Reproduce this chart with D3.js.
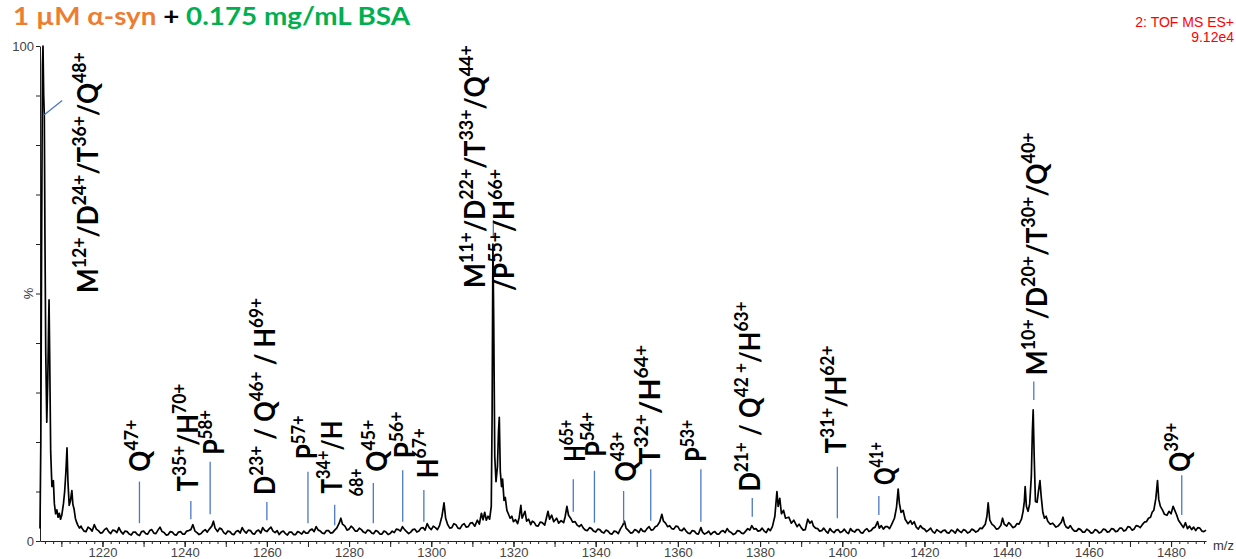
<!DOCTYPE html>
<html>
<head>
<meta charset="utf-8">
<script src="https://cdn.jsdelivr.net/npm/d3@7"></script>
<style>
  body { margin: 0; background: #fff; }
  svg { display: block; }
  .tick text { font-family: "Liberation Sans", Arial, sans-serif; font-size: 13px; fill: #444; }
  .tick line { stroke: #222; }
  .peak-label { font-family: Lato, "Open Sans", sans-serif; font-weight: 700; font-size: 28px; fill: #000; white-space: pre; }
</style>
</head>
<body>
<svg id="chart" width="1236" height="559"></svg>
<script>
// m/z (x) and relative intensity in % (y)
const spectrum = [
  [1204.8, 2.5], [1205.0, 20], [1205.2, 62], [1205.4, 96], [1205.53, 100], [1205.7, 90], [1205.85, 86],
  [1206.0, 62], [1206.2, 38], [1206.45, 24], [1206.7, 33], [1206.9, 44], [1207.0, 48.7], [1207.15, 38],
  [1207.4, 18], [1207.7, 11], [1207.9, 12], [1208.05, 12.2], [1208.3, 7.5], [1208.6, 5.5], [1208.9, 6.3],
  [1209.2, 4.8], [1209.5, 5.6], [1209.8, 4.4], [1210.1, 5.2], [1210.5, 7.5], [1210.8, 10], [1211.1, 14],
  [1211.37, 18.8], [1211.6, 12], [1211.9, 7.2], [1212.2, 8.1], [1212.55, 10.2], [1212.8, 7.4], [1213.1, 6.4],
  [1213.4, 4.6], [1213.7, 3.8], [1214.0, 3.2], [1214.4, 2.6], [1214.8, 3.0],
  [1215, 2.6], [1215.5, 2.0], [1216, 1.9], [1216.5, 2.8], [1217, 2.5], [1217.5, 2.0], [1218, 3.3], [1218.5, 2.4],
  [1219, 2.1], [1219.5, 1.6], [1220, 1.7], [1220.5, 2.3], [1221, 2.6], [1221.5, 1.9], [1222, 1.5], [1222.5, 2.2],
  [1223, 2.1], [1223.5, 1.7], [1224, 2.7], [1224.5, 1.9], [1225, 1.4], [1225.5, 2.0], [1226, 1.9], [1226.5, 1.4],
  [1227, 1.2], [1227.5, 1.8], [1228, 1.8], [1228.5, 1.3], [1229, 1.1], [1229.5, 1.9], [1230, 2.0], [1230.5, 1.5],
  [1231, 1.4], [1231.5, 2.1], [1232, 2.3], [1232.5, 1.6], [1233, 1.5], [1233.5, 2.2], [1234, 2.8], [1234.5, 1.9],
  [1235, 1.7], [1235.5, 1.2], [1236, 1.3], [1236.5, 1.9], [1237, 1.8], [1237.5, 1.3], [1238, 1.2], [1238.5, 1.8],
  [1239, 1.9], [1239.5, 1.4], [1240, 1.4], [1240.5, 2.0], [1241, 2.1], [1241.5, 2.3], [1242, 3.3], [1242.5, 2.0],
  [1243, 1.7], [1243.5, 1.3], [1244, 1.5], [1244.5, 2.0], [1245, 2.3], [1245.5, 1.8], [1246, 2.4],
  [1246.6, 3.0], [1247.0, 4.0], [1247.4, 2.6], [1248, 1.9], [1248.5, 2.6], [1249, 2.4], [1249.5, 1.7], [1250, 1.4],
  [1250.5, 2.0], [1251, 1.9], [1251.5, 1.4], [1252, 1.3], [1252.5, 1.9], [1253, 2.1], [1253.5, 1.6], [1254, 2.7],
  [1254.5, 2.0], [1255, 1.6], [1255.5, 2.2], [1256, 2.1], [1256.5, 1.5], [1257, 1.4], [1257.5, 2.0], [1258, 2.2],
  [1258.5, 1.6], [1259, 2.7], [1259.5, 2.1], [1260, 1.9], [1260.5, 2.4], [1261, 2.8], [1261.5, 2.0], [1262, 1.7],
  [1262.5, 2.1], [1263, 1.3], [1263.5, 1.8], [1264, 2.0], [1264.5, 1.5], [1265, 1.2], [1265.5, 1.8], [1266, 1.8],
  [1266.5, 1.3], [1267, 1.3], [1267.5, 1.9], [1268, 1.7], [1268.5, 1.4], [1269, 2.0], [1269.5, 1.6], [1270, 1.6],
  [1270.5, 2.2], [1271, 2.4], [1271.5, 1.9], [1272, 2.9], [1272.5, 2.2], [1273, 2.0], [1273.5, 1.6], [1274, 1.5],
  [1274.5, 2.1], [1275, 2.1], [1275.5, 1.6], [1276, 1.7], [1276.5, 2.2],
  [1277, 2.6], [1277.6, 3.6], [1278.0, 4.6], [1278.4, 3.4], [1279, 3.0], [1279.5, 2.2], [1280, 2.4], [1280.5, 3.0],
  [1281, 2.6], [1281.5, 2.0], [1282, 2.0], [1282.5, 2.6], [1283, 2.3], [1283.5, 1.8], [1284, 1.6], [1284.5, 2.2],
  [1285, 2.1], [1285.5, 1.6], [1286, 1.5], [1286.5, 2.1], [1287, 1.9], [1287.5, 1.4], [1288, 1.4], [1288.5, 2.0],
  [1289, 1.8], [1289.5, 1.3], [1290, 1.5], [1290.5, 2.0], [1291, 1.7], [1291.5, 2.4], [1292, 2.3], [1292.5, 2.0],
  [1293, 2.9], [1293.5, 2.3], [1294, 1.9], [1294.5, 1.5], [1295, 1.8], [1295.5, 2.3], [1296, 2.4], [1296.5, 1.8],
  [1297, 2.0], [1297.5, 2.6], [1298, 2.7], [1298.5, 2.2],
  [1299, 3.5], [1299.5, 2.7], [1300, 2.3], [1300.5, 3.0], [1301, 2.7], [1301.5, 2.3], [1302, 3.1], [1302.6, 5.0],
  [1303.1, 7.7], [1303.5, 4.6], [1304, 3.3], [1304.5, 2.6],
  [1305, 2.7], [1305.5, 3.5], [1306, 3.3], [1306.5, 2.6], [1307, 2.5], [1307.5, 3.2], [1308, 3.5], [1308.5, 2.8],
  [1309, 2.9], [1309.5, 3.6], [1310, 3.7], [1310.6, 3.0], [1311.2, 4.2],
  [1311.7, 3.4], [1312.2, 5.6], [1312.6, 4.3], [1313.0, 5.8], [1313.4, 4.2], [1313.8, 5.0], [1314.2, 4.4],
  [1314.6, 7.0], [1314.8, 25], [1315.0, 60], [1315.2, 44], [1315.45, 17], [1315.75, 12], [1316.1, 15],
  [1316.35, 22], [1316.55, 25], [1316.8, 14], [1317.1, 11], [1317.35, 12.5], [1317.7, 8.2], [1318.0, 8.8],
  [1318.4, 6.2], [1318.8, 5.4], [1319.2, 4.6], [1319.6, 5.0], [1320.0, 3.9], [1320.5, 4.3], [1321.0, 3.5],
  [1321.4, 4.8], [1321.8, 7.2], [1322.1, 4.6], [1322.5, 5.4], [1322.8, 6.0], [1323.2, 4.0], [1323.7, 4.4],
  [1324.2, 3.3], [1324.6, 4.0], [1325, 3.8], [1325.5, 3.1], [1326, 3.0], [1326.5, 3.8], [1327, 3.7], [1327.6, 3.2],
  [1328.0, 4.6], [1328.4, 6.0],
  [1328.8, 4.4], [1329.3, 5.2], [1329.8, 3.9], [1330.5, 4.6], [1331, 3.6], [1331.6, 4.1], [1332.2, 3.7],
  [1332.6, 5.0], [1333.0, 7.0], [1333.4, 5.2], [1333.9, 4.6], [1334.4, 3.8], [1335, 3.9], [1335.5, 3.2], [1336, 2.9],
  [1336.5, 3.3], [1337, 2.6], [1337.5, 2.2], [1338, 2.1], [1338.5, 2.7], [1339, 2.5], [1339.5, 2.0], [1340, 1.8],
  [1340.5, 2.4], [1341, 2.3], [1341.5, 1.8], [1342, 1.6], [1342.5, 2.2], [1343, 2.0], [1343.5, 1.5], [1344, 1.4],
  [1344.5, 2.0], [1345, 1.9], [1345.5, 1.5], [1346, 2.4], [1346.6, 3.2], [1347.0, 4.0], [1347.4, 2.6], [1348, 2.1],
  [1348.5, 1.6], [1349, 1.7], [1349.5, 2.3], [1350, 2.1], [1350.5, 1.7], [1351, 2.5], [1351.5, 2.0], [1352, 1.9],
  [1352.5, 2.5], [1353, 2.9], [1353.5, 2.2], [1354, 2.3], [1354.5, 2.9], [1355, 3.1], [1355.6, 3.9], [1356.1, 5.4],
  [1356.5, 4.0], [1357, 3.6], [1357.5, 2.9], [1358, 3.1], [1358.5, 2.5], [1359, 2.4], [1359.5, 3.0], [1360, 2.9],
  [1360.5, 2.2], [1361, 2.1], [1361.5, 2.6], [1362, 2.0], [1362.5, 1.6], [1363, 1.5], [1363.5, 2.1], [1364, 2.0],
  [1364.5, 1.5], [1365, 1.4], [1365.6, 2.7], [1366, 1.8], [1366.5, 1.4], [1367, 1.6], [1367.5, 2.0], [1368, 1.3],
  [1368.5, 1.7], [1369, 1.9], [1369.5, 1.4], [1370, 1.4], [1370.5, 1.9], [1371, 2.1], [1371.5, 1.7],
  [1372, 2.5], [1372.5, 1.9], [1373, 1.7], [1373.5, 1.3], [1374, 1.5], [1374.5, 2.1], [1375, 2.0], [1375.5, 1.6],
  [1376, 1.5], [1376.5, 2.0], [1377, 2.5], [1377.5, 2.2], [1378, 3.1], [1378.5, 2.4], [1379, 2.5], [1379.5, 2.0],
  [1380, 2.1], [1380.5, 2.6], [1381, 2.0], [1381.5, 1.7], [1382, 2.5], [1382.5, 2.1], [1383, 2.9], [1383.6, 5.0],
  [1384.1, 10], [1384.4, 7.0], [1384.8, 8.6],
  [1385.2, 5.5], [1385.7, 6.2], [1386.2, 4.6], [1387, 4.8], [1387.6, 3.6], [1388.2, 4.2], [1389, 2.9],
  [1389.5, 3.4], [1390, 2.7], [1390.5, 2.2], [1391, 2.3], [1391.6, 4.4], [1392.1, 3.6], [1392.6, 4.0], [1393, 3.0],
  [1393.5, 2.6], [1394, 2.5], [1394.5, 2.0], [1395, 2.1], [1395.5, 2.6], [1396, 2.0], [1396.5, 1.6], [1397, 2.5],
  [1397.5, 2.0], [1398, 1.7], [1398.5, 2.2], [1399, 2.3], [1399.5, 1.7], [1400, 1.9], [1400.5, 2.4], [1401, 1.8],
  [1401.5, 1.5], [1402, 2.5], [1402.5, 2.0], [1403, 1.8], [1403.5, 2.3], [1404, 2.3], [1404.5, 1.7], [1405, 1.6],
  [1405.5, 2.2], [1406, 2.5], [1406.5, 1.9], [1407, 2.1], [1407.5, 2.6], [1408, 2.8], [1408.6, 3.9], [1409, 2.6],
  [1409.5, 3.1], [1410, 2.4], [1410.5, 2.9], [1411, 2.9], [1411.5, 2.5], [1412, 3.3], [1412.7, 4.6], [1413.2, 6.8],
  [1413.6, 10.5], [1413.9, 7.6], [1414.3, 5.8],
  [1414.8, 6.2], [1415.3, 4.4], [1416, 3.5], [1416.6, 4.1], [1417, 3.4], [1417.5, 3.9], [1418, 2.8], [1418.5, 2.4],
  [1419, 3.1], [1419.5, 2.6], [1420, 2.4], [1420.5, 1.9], [1421, 2.2], [1421.5, 2.6], [1422, 1.9], [1422.5, 1.6],
  [1423, 2.3], [1423.5, 2.0], [1424, 1.7], [1424.5, 2.1], [1425, 2.2], [1425.5, 1.7], [1426, 1.6], [1426.5, 2.2],
  [1427, 2.0], [1427.5, 1.6], [1428, 2.4], [1428.5, 2.0], [1429, 1.7], [1429.5, 2.3], [1430, 2.1], [1430.5, 1.6],
  [1431, 1.8], [1431.5, 2.4], [1432, 2.2], [1432.5, 1.8], [1433, 2.0], [1433.5, 2.6], [1434, 2.5], [1434.8, 3.4],
  [1435.2, 5.0], [1435.5, 7.7], [1435.9, 4.2], [1436.4, 3.4], [1437, 3.0], [1437.5, 2.4], [1438, 2.5], [1438.6, 3.2],
  [1439.0, 4.6], [1439.4, 3.4], [1440, 3.0], [1440.5, 3.7], [1441, 3.3], [1441.5, 2.7], [1442, 2.9], [1442.5, 3.5],
  [1443, 3.4], [1443.6, 4.4], [1444.0, 6.0], [1444.3, 8.0],
  [1444.5, 11], [1444.8, 7.0], [1445.2, 6.0], [1445.6, 7.5], [1446.0, 13], [1446.25, 22], [1446.45, 26.5],
  [1446.7, 17], [1447.0, 8.0], [1447.4, 7.8], [1447.8, 10.5], [1448.1, 12.2], [1448.4, 9.0], [1448.8, 5.8],
  [1449.2, 4.6], [1449.6, 5.0], [1450, 4.0], [1450.6, 3.4], [1451.2, 3.6], [1452, 2.8], [1452.6, 3.1], [1453.3, 3.8],
  [1453.7, 4.8], [1454.1, 3.4], [1454.5, 2.8], [1455, 2.6], [1455.5, 3.1], [1456, 2.4], [1456.5, 2.0], [1457, 2.0],
  [1457.5, 2.5], [1458, 2.3], [1458.5, 1.8], [1459, 1.8], [1459.5, 2.4], [1460, 2.1], [1460.5, 1.6], [1461, 1.7],
  [1461.5, 2.3], [1462, 2.1], [1462.5, 1.6], [1463, 1.8], [1463.5, 2.4], [1464, 2.3], [1464.5, 1.8], [1465, 1.9],
  [1465.5, 2.5], [1466, 2.4], [1466.5, 1.9], [1467, 2.0], [1467.5, 2.6], [1468, 2.6], [1468.5, 2.0], [1469, 2.2],
  [1469.5, 2.9], [1470, 2.8], [1470.5, 2.2], [1471, 2.4], [1471.5, 3.1], [1472, 3.0], [1472.5, 2.7], [1473, 3.3],
  [1473.5, 3.8], [1474, 3.9], [1474.5, 4.6], [1475, 4.8], [1475.4, 5.8], [1475.8, 6.2],
  [1476.3, 8.6], [1476.7, 12.2], [1477.0, 8.4], [1477.4, 7.0], [1477.9, 6.3], [1478.4, 5.4], [1479, 5.2],
  [1479.5, 6.0], [1480.0, 5.5], [1480.5, 7.0], [1480.9, 6.2], [1481.3, 5.4], [1481.8, 4.2], [1482.3, 3.6],
  [1483, 2.7], [1483.5, 3.7], [1484, 2.5], [1484.5, 3.0], [1485, 2.3], [1485.5, 2.8], [1486, 2.1], [1486.5, 2.7],
  [1487, 2.6], [1487.5, 2.0], [1488, 1.9], [1488.5, 2.2]
];

const xDomain = [1204.8, 1488.5];
const xLabelTicks = d3.range(1220, 1481, 20);
const xMidTicks = d3.range(1210, 1489, 10);
const xMinorTicks = d3.range(1206, 1489, 2);
const yTicks = d3.range(0, 101, 10);
const yLabelTicks = [0, 100];

const titleParts = [
  ['1 \u00B5M \u03B1-syn', '#ED7D31'],
  [' + ', '#000000'],
  ['0.175 mg/mL BSA', '#00B050']
];
const headerLines = ['2: TOF MS ES+', '9.12e4'];

// peak assignments: text parts [normal, superscript], anchored at (m/z, %) at the start of the text
const peakLabels = [
  { parts: [['M', '12+'], ['/D', '24+'], ['/T', '36+'], ['/Q', '48+']], mz: 1218.9, pct: 50.1 },
  { parts: [['Q', '47+']], mz: 1231.6, pct: 14.0 },
  { parts: [['T', '35+'], ['/H', '70+']], mz: 1243.2, pct: 10.0 },
  { parts: [['P', '58+']], mz: 1249.6, pct: 17.4 },
  { parts: [['D', '23+'], [' / Q', '46+'], [' / H', '69+']], mz: 1262.0, pct: 9.3 },
  { parts: [['P', '57+']], mz: 1272.2, pct: 16.5 },
  { parts: [['T', '34+'], ['/H', '']], mz: 1278.3, pct: 9.6 },
  { parts: [['', '68+']], mz: 1283.4, pct: 9.0, small: true },
  { parts: [['Q', '45+']], mz: 1289.2, pct: 14.0 },
  { parts: [['P', '56+']], mz: 1296.0, pct: 16.7 },
  { parts: [['H', '67+']], mz: 1301.6, pct: 12.7 },
  { parts: [['M', '11+'], ['/D', '22+'], ['/T', '33+'], ['/Q', '44+']], mz: 1313.1, pct: 51.1 },
  { parts: [['/P', '55+'], ['/H', '66+']], mz: 1320.1, pct: 50.5 },
  { parts: [['H', '65+']], mz: 1337.4, pct: 16.0 },
  { parts: [['P', '54+']], mz: 1342.5, pct: 17.0 },
  { parts: [['Q', '43+']], mz: 1349.8, pct: 12.0 },
  { parts: [['T', '32+'], ['/H', '64+']], mz: 1355.7, pct: 15.4 },
  { parts: [['P', '53+']], mz: 1366.8, pct: 16.0 },
  { parts: [['D', '21+'], [' / Q', '42 +'], ['/H', '63+']], mz: 1380.0, pct: 10.0 },
  { parts: [['T', '31+'], ['/H', '62+']], mz: 1400.9, pct: 17.7 },
  { parts: [['Q', '41+']], mz: 1412.8, pct: 11.3 },
  { parts: [['M', '10+'], ['/D', '20+'], ['/T', '30+'], ['/Q', '40+']], mz: 1449.8, pct: 33.5 },
  { parts: [['Q', '39+']], mz: 1484.5, pct: 14.0 }
];
// length of each label along its reading direction (px)
const labelSpan = [241, 52, 108, 45, 197, 44, 73, 28, 52, 47, 50, 243, 122, 42, 45, 50, 120, 42, 190, 108, 43, 243, 49];

// blue marker lines: [m/z start, % start, m/z end, % end]
const markerLines = [
  [1205.85, 86.1, 1210.2, 89.0],
  [1229.0, 3.6, 1229.0, 12.0],
  [1241.5, 4.4, 1241.5, 8.1],
  [1246.2, 5.4, 1246.2, 16.0],
  [1260.0, 4.2, 1260.0, 7.9],
  [1270.0, 3.6, 1270.0, 14.0],
  [1276.5, 3.2, 1276.5, 7.3],
  [1285.9, 3.6, 1285.9, 11.7],
  [1293.05, 3.9, 1293.05, 14.3],
  [1298.2, 3.9, 1298.2, 10.3],
  [1315.1, 61.2, 1315.1, 64.8],
  [1334.55, 5.9, 1334.55, 12.5],
  [1339.7, 3.7, 1339.7, 14.2],
  [1346.8, 3.6, 1346.8, 10.1],
  [1353.4, 4.1, 1353.4, 14.5],
  [1365.6, 3.9, 1365.6, 14.5],
  [1378.1, 4.9, 1378.1, 8.7],
  [1398.8, 4.6, 1398.8, 15.0],
  [1408.9, 5.25, 1408.9, 9.1],
  [1446.6, 28.5, 1446.6, 32.2],
  [1482.6, 5.25, 1482.6, 13.3]
];

const svg = d3.select('#chart');
const margin = { left: 40, right: 30, top: 46, bottom: 18 };
const width = +svg.attr('width');
const height = +svg.attr('height');

const x = d3.scaleLinear().domain(xDomain).range([margin.left, width - margin.right]);
const y = d3.scaleLinear().domain([0, 100]).range([height - margin.bottom, margin.top]);

// Title
const title = svg.append('text')
  .attr('x', 13).attr('y', 25)
  .attr('font-family', 'Lato, "Open Sans", sans-serif')
  .attr('font-weight', 700)
  .attr('font-size', 25)
  .style('white-space', 'pre');
titleParts.forEach(([txt, color]) => title.append('tspan').attr('fill', color).text(txt));
const tw = title.node().getBBox().width;
title.attr('transform', `translate(13,0) scale(${398 / tw},1) translate(-13,0)`);

// Instrument header, right aligned at the page edge
headerLines.forEach((txt, i) => {
  svg.append('text')
    .attr('x', 1234)
    .attr('y', i === 0 ? 27 : 42)
    .attr('text-anchor', 'end')
    .attr('font-family', '"Liberation Sans", Arial, sans-serif')
    .attr('font-size', 14)
    .attr('fill', '#FF0000')
    .text(txt);
});

// Axes
const xAxisY = y(0);
svg.append('g').attr('transform', `translate(0,${xAxisY})`)
  .call(d3.axisBottom(x).tickValues(xMinorTicks).tickSize(3).tickSizeOuter(0).tickFormat(''))
  .call((g) => g.select('.domain').attr('stroke', '#222'));
svg.append('g').attr('transform', `translate(0,${xAxisY})`)
  .call(d3.axisBottom(x).tickValues(xMidTicks).tickSize(6).tickSizeOuter(0).tickFormat(''))
  .call((g) => g.select('.domain').remove());
svg.append('g').attr('transform', `translate(0,${xAxisY})`)
  .call(d3.axisBottom(x).tickValues(xLabelTicks).tickSize(6).tickPadding(1).tickSizeOuter(0).tickFormat(d3.format('d')))
  .call((g) => g.select('.domain').remove())
  .call((g) => g.selectAll('.tick text').attr('font-size', 12));

svg.append('g').attr('transform', `translate(${margin.left},0)`)
  .call(d3.axisLeft(y).tickValues(yTicks).tickSize(4).tickPadding(2).tickSizeOuter(0)
    .tickFormat((d) => (yLabelTicks.includes(d) ? d : '')))
  .call((g) => g.select('.domain').attr('stroke', '#222'))
  .call((g) => g.selectAll('.tick text').attr('font-size', 12));

svg.append('text')
  .attr('transform', `translate(33,${y(50)}) rotate(-90)`)
  .attr('text-anchor', 'middle')
  .attr('font-family', '"Liberation Sans", Arial, sans-serif')
  .attr('font-size', 13)
  .attr('fill', '#333')
  .text('%');

svg.append('text')
  .attr('x', x(xDomain[1]) + 7)
  .attr('y', xAxisY + 9)
  .attr('font-family', '"Liberation Sans", Arial, sans-serif')
  .attr('font-size', 13)
  .attr('fill', '#333')
  .text('m/z');

// Spectrum trace
const line = d3.line()
  .x((d) => x(d[0]))
  .y((d) => y(d[1]));

svg.append('path')
  .datum(spectrum)
  .attr('fill', 'none')
  .attr('stroke', '#000')
  .attr('stroke-width', 1.7)
  .attr('stroke-linejoin', 'round')
  .attr('d', line);

// Marker lines
svg.append('g').selectAll('line')
  .data(markerLines)
  .enter()
  .append('line')
  .attr('x1', (d) => x(d[0]))
  .attr('y1', (d) => y(d[1]))
  .attr('x2', (d) => x(d[2]))
  .attr('y2', (d) => y(d[3]))
  .attr('stroke', '#4A78C8')
  .attr('stroke-width', 1.3);

// Peak labels (rotated, reading bottom to top)
const SUP_SIZE = 19;
const SUP_SHIFT = 12;
peakLabels.forEach((lb, i) => {
  const g = svg.append('g').attr('transform', `translate(${x(lb.mz)},${y(lb.pct)}) rotate(-90)`);
  const t = g.append('text').attr('class', 'peak-label');
  let level = 0;
  lb.parts.forEach(([main, sup]) => {
    if (lb.small) {
      t.append('tspan').attr('font-size', SUP_SIZE).text(main + sup);
      return;
    }
    if (main) {
      t.append('tspan').attr('dy', -level).text(main);
      level = 0;
    }
    if (sup) {
      t.append('tspan').attr('font-size', SUP_SIZE).attr('dy', -SUP_SHIFT - level).text(sup);
      level = -SUP_SHIFT;
    }
  });
  const bw = t.node().getBBox().width;
  t.attr('transform', `scale(${labelSpan[i] / bw},1)`);
});
</script>
</body>
</html>
